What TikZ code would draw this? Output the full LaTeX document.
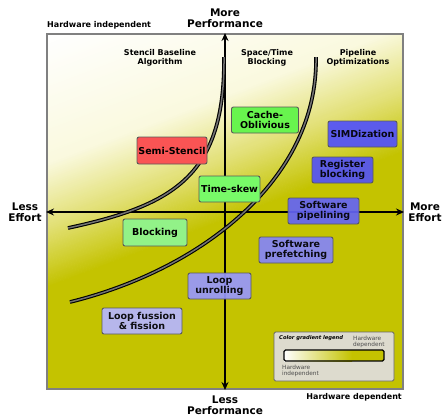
\documentclass[tikz,border=0pt]{standalone}
\usepackage{fontspec}
\setmainfont{DejaVu Sans}
\usetikzlibrary{arrows.meta}
\definecolor{hwolive}{RGB}{196,195,0}
\definecolor{hwyellow}{RGB}{228,226,125}
\definecolor{hwcream}{RGB}{250,249,222}
\definecolor{legendgray}{RGB}{221,219,206}
\definecolor{semired}{RGB}{250,84,84}
\definecolor{cachegreen}{RGB}{104,244,78}
\definecolor{skewgreen}{RGB}{120,250,104}
\definecolor{blockgreen}{RGB}{146,242,136}
\begin{document}
\begin{tikzpicture}[x=1pt,y=-1pt,
    tech/.style={rectangle,draw=black!65,line width=0.9pt,rounded corners=2pt,
      font=\fontsize{9.5}{10}\selectfont\bfseries,align=center,minimum height=26,inner sep=0pt},
    hwtech/.style={tech,fill opacity=0.92},
    head/.style={font=\fontsize{8}{8.5}\selectfont\bfseries,align=center},
    axlabel/.style={font=\fontsize{10.5}{11}\selectfont\bfseries,align=center},
    curve/.style={line width=1.1pt,double=black!55,double distance=1.5pt},
    >={Stealth[length=8pt,width=7pt]}]
            \useasboundingbox (0,0) rectangle (443,416);
            \begin{scope}
            \clip (47,34) rectangle (403,389);
            \begin{scope}[shift={(47,34)},rotate=20.8]
            \fill[white] (-300,-300) rectangle (800,0.5);
            \foreach \d in {0,2,...,118}{
              \pgfmathtruncatemacro\p{\d/120*100}
              \fill[hwcream!\p!white] (-300,\d) rectangle (800,\d+2.5);}
            \foreach \d in {120,122,...,174}{
              \pgfmathtruncatemacro\p{(\d-120)/55*100}
              \fill[hwyellow!\p!hwcream] (-300,\d) rectangle (800,\d+2.5);}
            \foreach \d in {176,178,...,234}{
              \pgfmathtruncatemacro\p{(\d-176)/60*100}
              \fill[hwolive!\p!hwyellow] (-300,\d) rectangle (800,\d+2.5);}
            \fill[hwolive] (-300,236) rectangle (800,700);
            \end{scope}
            \end{scope}
            \draw[black!50,line width=2pt] (47,34) rectangle (403,389);

            \coordinate (up) at (225,33);
            \coordinate (down) at (225,390);
            \coordinate (left) at (46,212);
            \coordinate (right) at (404,212);
            \draw[line width=1.2pt,<->] (down)--(up);
            \draw[line width=1.2pt,<->] (left)--(right);

            \draw (225,18) node[axlabel] (moreperf) {More\\Performance};
            \draw (225,405) node[axlabel] (lessperf) {Less\\Performance};
            \draw (25,212) node[axlabel] (lesseff) {Less\\Effort};
            \draw (425,212) node[axlabel] (moreeff) {More\\Effort};
            \draw (47,25) node[head,anchor=west,inner sep=0pt] (hwind) {Hardware independent};
            \draw (402,397) node[head,anchor=east,inner sep=0pt] (hwdep) {Hardware dependent};
            \draw (160,58) node[head] (baseline) {Stencil Baseline\\Algorithm};
            \draw (267,58) node[head] (spacetime) {Space/Time\\Blocking};
            \draw (358,58) node[head] (pipeline) {Pipeline\\Optimizations};

            \draw[curve] (68,228) .. controls (175,205) and (225,175) .. (224,57);
            \draw[curve] (70,302) .. controls (200,270) and (318,180) .. (316,57);

            \draw (265,120) node[tech,fill=cachegreen,minimum width=67] (cache) {Cache-\\Oblivious};
            \draw (172,150.5) node[tech,fill=semired,minimum width=70,minimum height=27] (semi) {Semi-Stencil};
            \draw (229.5,189) node[tech,fill=skewgreen,minimum width=61] (skew) {Time-skew};
            \draw (155,232.5) node[tech,fill=blockgreen,minimum width=64,minimum height=27] (block) {Blocking};
            \draw (362.5,134) node[hwtech,fill={rgb,255:red,81;green,81;blue,250},minimum width=69] (simd) {SIMDization};
            \draw (342.5,170) node[hwtech,fill={rgb,255:red,83;green,83;blue,245},minimum width=61] (regblock) {Register\\blocking};
            \draw (323.5,211) node[hwtech,fill={rgb,255:red,100;green,100;blue,245},minimum width=71] (swpipe) {Software\\pipelining};
            \draw (296,250) node[hwtech,fill={rgb,255:red,133;green,133;blue,248},minimum width=74] (swpref) {Software\\prefetching};
            \draw (219.5,286) node[hwtech,fill={rgb,255:red,151;green,151;blue,252},minimum width=63] (unroll) {Loop\\unrolling};
            \draw (142,321) node[hwtech,fill={rgb,255:red,181;green,181;blue,255},minimum width=80] (fusion) {Loop fussion\\\& fission};

            \draw (334,356.5) node[rectangle,draw=black!60,line width=0.8pt,rounded corners=1.5pt,
             fill=legendgray,minimum width=120,minimum height=49] (legend) {};
            \draw (279,338) node[anchor=west,inner sep=0pt,
             font=\fontsize{5.2}{6}\selectfont\bfseries\itshape] (legendtitle) {Color gradient legend};
            \draw (353,336) node[anchor=north west,inner sep=0pt,align=left,text=black!70,
             font=\fontsize{5.8}{6}\selectfont] (legdep) {Hardware\\dependent};
            \shade[left color=white,right color=hwolive] (284,350) rectangle (352,361);
            \fill[hwolive] (352,350) rectangle (384,361);
            \draw[line width=1.2pt,rounded corners=1.5pt] (284,350) rectangle (384,361);
            \draw (282,364.5) node[anchor=north west,inner sep=0pt,align=left,text=black!70,
             font=\fontsize{5.8}{6}\selectfont] (legind) {Hardware\\independent};
            \end{tikzpicture}
\end{document}
